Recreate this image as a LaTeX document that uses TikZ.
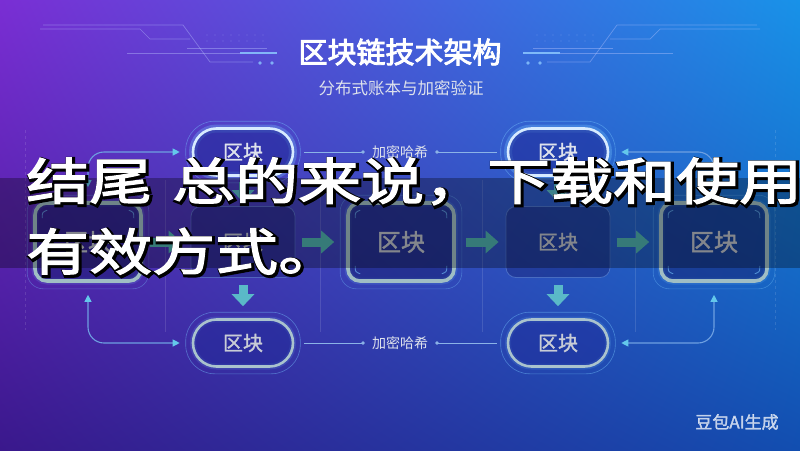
\documentclass[tikz,border=0pt]{standalone}
\usepackage{fontspec}
\setmainfont{Noto Sans CJK SC}
\newfontfamily\cjkb[FakeBold=1.5]{Noto Sans CJK SC}
\newfontfamily\cjkbb[FakeBold=3]{Noto Sans CJK SC}
\newfontfamily\brushfont[FakeStretch=1.26,FakeBold=2.5]{Noto Sans CJK SC}
\newfontfamily\brushedge[FakeStretch=1.26,FakeBold=9]{Noto Sans CJK SC}
\usetikzlibrary{arrows.meta,calc,shadings}
\definecolor{bgTL}{RGB}{122,46,212}
\definecolor{bgTR}{RGB}{24,146,232}
\definecolor{bgBL}{RGB}{58,24,140}
\definecolor{bgBR}{RGB}{18,78,176}
\definecolor{pillglow}{RGB}{120,200,255}
\definecolor{pillrim}{RGB}{215,235,255}
\definecolor{pillfill}{RGB}{30,40,150}
\definecolor{botrim}{RGB}{170,195,205}
\definecolor{boxrim}{RGB}{160,190,196}
\definecolor{boxfill}{RGB}{22,30,110}
\definecolor{dimrim}{RGB}{110,150,220}
\definecolor{blockteal}{RGB}{78,176,172}
\definecolor{blocktealb}{RGB}{90,185,200}
\definecolor{txtgrey}{RGB}{200,204,214}
\definecolor{txtlight}{RGB}{222,226,236}
\definecolor{linkblue}{RGB}{110,160,225}
\definecolor{tipcyan}{RGB}{100,200,235}
\definecolor{decoline}{RGB}{190,200,255}
\definecolor{decobar}{RGB}{140,200,255}
\newcommand{\brushline}[1]{{\brushedge\color{black}\rlap{\hspace{1.5pt}\raisebox{-1.5pt}{#1}}}{\brushfont\color{white}#1}}
\begin{document}
\begin{tikzpicture}[x=1pt,y=-1pt,
  toppill/.style={draw=pillrim, line width=2.6pt, fill=pillfill, fill opacity=0.55, text opacity=1,
    rounded corners=23.5pt, minimum width=100pt, minimum height=47pt, inner sep=0pt,
    font=\cjkb\fontsize{20}{20}\selectfont, text=txtlight,
    preaction={draw=pillglow, line width=8pt, draw opacity=0.3}},
  botpill/.style={draw=botrim, line width=2.6pt, fill=pillfill, fill opacity=0.45, text opacity=1,
    rounded corners=23.5pt, minimum width=100pt, minimum height=47pt, inner sep=0pt,
    font=\cjkb\fontsize{20}{20}\selectfont, text=txtgrey,
    preaction={draw=pillglow, line width=6pt, draw opacity=0.15}},
  pillring/.style={draw=pillglow, draw opacity=0.45, line width=0.6pt, rounded corners=29pt},
  brightbox/.style={draw=boxrim, line width=3.6pt, fill=boxfill, fill opacity=0.5, text opacity=1,
    rounded corners=12pt, minimum width=106pt, minimum height=78pt, inner sep=0pt,
    font=\cjkb\fontsize{24}{24}\selectfont, text=txtgrey!85!gray,
    preaction={draw=pillglow, line width=7pt, draw opacity=0.15}},
  boxring/.style={draw=pillglow, draw opacity=0.35, line width=0.6pt, rounded corners=16pt},
  dimbox/.style={draw=dimrim, draw opacity=0.5, line width=0.8pt, fill=boxfill, fill opacity=0.4, text opacity=1,
    rounded corners=10pt, minimum width=104pt, minimum height=71pt, inner sep=0pt,
    font=\cjkb\fontsize{20}{20}\selectfont, text=txtgrey!85!gray},
  cornertick/.style={draw=pillglow, draw opacity=0.6, line width=0.9pt},
  blockarr/.style={draw=blockteal, line width=9pt, -{Triangle[length=13pt,width=22pt]}},
  blockdown/.style={draw=blocktealb, line width=9pt, -{Triangle[length=12pt,width=22pt]}},
  linkarr/.style={draw=linkblue, line width=1.1pt, rounded corners=16pt,
    {Triangle[length=7pt,width=7pt,color=tipcyan]}-{Triangle[length=7pt,width=7pt,color=tipcyan]}},
  hashlbl/.style={font=\fontsize{14}{14}\selectfont, text=txtlight, inner sep=0pt},
  hashline/.style={draw=linkblue!80!white, line width=0.9pt},
  deco/.style={draw=decoline, draw opacity=0.4, line width=0.7pt},
  framel/.style={draw=white, draw opacity=0.12, line width=0.6pt}
]
\useasboundingbox (0,0) rectangle (800,450);
% background
\shade[upper left=bgTL, upper right=bgTR, lower left=bgBL, lower right=bgBR] (0,0) rectangle (800,450);

% header decoration (left, mirrored on right)
\foreach \mir/\sh in {1/0, -1/800} {
  \begin{scope}[xshift=\sh pt, xscale=\mir]
    \draw[deco] (43,25)--(183,25)--(210,62)--(253,62);
    \draw[deco] (40,29)--(140,29)--(150,39)--(190,39);
    \draw[deco] (187,48)--(267,48);
    \draw[deco] (127,53)--(240,53);
    \draw[draw=decobar, draw opacity=0.85, line width=2pt] (240,53)--(277,53);
    \fill[decobar, opacity=0.8] (260,63) circle (1.8) (272,63) circle (1.8);
    \foreach \x in {207,215,...,267} {
      \fill[decoline, opacity=0.3] (\x,35) circle (0.7) (\x,41) circle (0.7);
    }
  \end{scope}
}

% title
\node[font=\cjkbb\fontsize{29}{29}\selectfont, text=white] (title) at (400,52) {区块链技术架构};
\node[font=\fontsize{16.5}{16.5}\selectfont, text=txtlight] (sub) at (401,88) {分布式账本与加密验证};

% faint frame lines
\draw[framel] (165,180) -- (165,332);
\draw[framel] (320,180) -- (320,332);
\draw[framel] (482,180) -- (482,332);
\draw[framel] (635,180) -- (635,332);
\draw[framel, dashed] (25,130) -- (25,330);
\draw[framel, dashed] (775,130) -- (775,330);

% nodes
\node[toppill] (tp1) at (243,152) {区块};
\node[toppill] (tp2) at (558,152) {区块};
\node[botpill] (bp1) at (243,343) {区块};
\node[botpill] (bp2) at (558,343) {区块};
\foreach \n in {tp1,tp2,bp1,bp2} {
  \draw[pillring] ($(\n.south west)+(-6,6)$) rectangle ($(\n.north east)+(6,-6)$);
}
\node[brightbox] (b1) at (88,242) {区块};
\node[dimbox] (b2) at (243,242) {区块};
\node[brightbox] (b3) at (401,242) {区块};
\node[dimbox] (b4) at (558,242) {区块};
\node[brightbox] (b5) at (714,242) {区块};
\foreach \n in {b1,b3,b5} {
  \draw[boxring] ($(\n.south west)+(-6,6)$) rectangle ($(\n.north east)+(6,-6)$);
  \draw[cornertick] ($(\n.north west)+(9,17)$) .. controls ($(\n.north west)+(9,11)$) .. ($(\n.north west)+(14,9)$);
  \draw[cornertick] ($(\n.north east)+(-9,17)$) .. controls ($(\n.north east)+(-9,11)$) .. ($(\n.north east)+(-14,9)$);
  \draw[cornertick] ($(\n.south west)+(9,-17)$) .. controls ($(\n.south west)+(9,-11)$) .. ($(\n.south west)+(14,-9)$);
  \draw[cornertick] ($(\n.south east)+(-9,-17)$) .. controls ($(\n.south east)+(-9,-11)$) .. ($(\n.south east)+(-14,-9)$);
}
\node[hashlbl] (h1) at (400,152) {加密哈希};
\node[hashlbl] (h2) at (400,343) {加密哈希};

% hash connectors
\draw[hashline, shorten <=10pt, shorten >=7pt, -{Circle[length=3.5pt]}] (tp1) -- (h1);
\draw[hashline, shorten <=7pt, shorten >=10pt, {Circle[length=3.5pt]}-] (h1) -- (tp2);
\draw[hashline, shorten <=10pt, shorten >=7pt, -{Circle[length=3.5pt]}] (bp1) -- (h2);
\draw[hashline, shorten <=7pt, shorten >=10pt, {Circle[length=3.5pt]}-] (h2) -- (bp2);

% block arrows
\draw[blockarr, shorten <=7pt, shorten >=9pt] (b1) -- (b2);
\draw[blockarr, shorten <=7pt, shorten >=12pt] (b2) -- (b3);
\draw[blockarr, shorten <=10pt, shorten >=7pt] (b3) -- (b4);
\draw[blockarr, shorten <=7pt, shorten >=10pt] (b4) -- (b5);
\draw[blockdown, shorten <=5pt, shorten >=4pt] (tp1) -- (b2);
\draw[blockdown, shorten <=5pt, shorten >=4pt] (tp2) -- (b4);
\draw[blockdown, shorten <=7pt, shorten >=12pt] (b2) -- (bp1);
\draw[blockdown, shorten <=7pt, shorten >=12pt] (b4) -- (bp2);

% curved double connectors
\draw[linkarr, shorten <=14pt, shorten >=12pt] (b1.north) |- (tp1.west);
\draw[linkarr, shorten <=12pt, shorten >=12pt] (b1.south) |- (bp1.west);
\draw[linkarr, shorten <=12pt, shorten >=14pt] (tp2.east) -| (b5.north);
\draw[linkarr, shorten <=12pt, shorten >=12pt] (bp2.east) -| (b5.south);

% overlay band and caption
\fill[black, opacity=0.3] (0,178) rectangle (800,268);
\node[anchor=west, inner sep=0pt] (cap1) at (26,182) {\fontsize{50}{50}\selectfont\brushline{结尾\hspace{20pt}总的来说，下载和使用}};
\node[anchor=west, inner sep=0pt] (cap2) at (26,252) {\fontsize{50}{50}\selectfont\brushline{有效方式。}};

% watermark
\node[font=\cjkb\fontsize{17}{17}\selectfont, text=white, text opacity=0.72] (wm) at (737,422) {豆包AI生成};
\end{tikzpicture}
\end{document}
